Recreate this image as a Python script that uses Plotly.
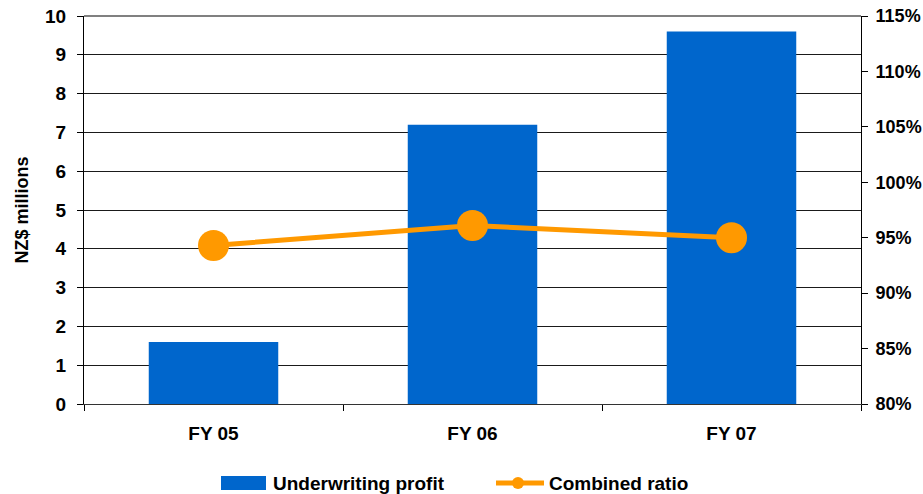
import plotly.graph_objects as go

# Financial years shown on the category axis
years = ["FY 05", "FY 06", "FY 07"]
# Underwriting profit, NZ$ millions
underwriting_profit = [1.6, 7.2, 9.6]
# Combined ratio (fraction)
combined_ratio = [0.943, 0.961, 0.950]

left_ticks = list(range(0, 11))
right_ticks = [0.80, 0.85, 0.90, 0.95, 1.00, 1.05, 1.10, 1.15]

BLUE = "#0066CC"
ORANGE = "#FF9900"
FONT = "Arial, 'Liberation Sans', sans-serif"
TICK_SIZE = 19

W, H = 923, 494
M_L, M_R, M_T, M_B = 84, 62, 16, 90


def px_x(x):
    return (x - M_L) / (W - M_L - M_R)


def px_y(y):
    return (H - M_B - y) / (H - M_T - M_B)


fig = go.Figure()

fig.add_trace(go.Bar(
    x=years, y=underwriting_profit, name="Underwriting profit",
    marker=dict(color=BLUE, line=dict(width=0)),
    yaxis="y", showlegend=False,
))

fig.add_trace(go.Scatter(
    x=years, y=combined_ratio, name="Combined ratio",
    mode="lines+markers",
    line=dict(color=ORANGE, width=5),
    marker=dict(color=ORANGE, size=31),
    yaxis="y2", showlegend=False,
))

# Legend drawn as keys plus labels beneath the plot
shapes = [
    dict(type="line", xref="paper", yref="paper", x0=0, x1=1, y0=1, y1=1,
         line=dict(color="#808080", width=2)),
    dict(type="rect", xref="paper", yref="paper",
         x0=px_x(221), x1=px_x(266), y0=px_y(490), y1=px_y(476),
         fillcolor=BLUE, line=dict(width=0)),
    dict(type="line", xref="paper", yref="paper",
         x0=px_x(496), x1=px_x(544), y0=px_y(483), y1=px_y(483),
         line=dict(color=ORANGE, width=5)),
    dict(type="circle", xref="paper", yref="paper",
         x0=px_x(512), x1=px_x(524), y0=px_y(489), y1=px_y(477),
         fillcolor=ORANGE, line=dict(width=0)),
]

annotations = [
    dict(text="<b>Underwriting profit</b>", xref="paper", yref="paper",
         x=px_x(271), y=px_y(483), xanchor="left", yanchor="middle",
         showarrow=False, font=dict(family=FONT, size=19, color="black")),
    dict(text="<b>Combined ratio</b>", xref="paper", yref="paper",
         x=px_x(547), y=px_y(483), xanchor="left", yanchor="middle",
         showarrow=False, font=dict(family=FONT, size=19, color="black")),
]

fig.update_layout(
    width=W, height=H,
    margin=dict(l=M_L, r=M_R, t=M_T, b=M_B, pad=0),
    paper_bgcolor="white", plot_bgcolor="white",
    bargap=0.5,
    font=dict(family=FONT, size=17, color="black"),
    xaxis=dict(
        type="category", automargin=False,
        showline=True, linecolor="#333333", linewidth=1,
        ticks="outside", ticklen=6, tickcolor="black", tickson="boundaries",
        tickfont=dict(family=FONT, size=TICK_SIZE, color="black", weight="bold"),
        ticklabelstandoff=12,
        showgrid=False,
    ),
    yaxis=dict(
        range=[0, 10], tickvals=left_ticks, automargin=False,
        showline=True, linecolor="black", linewidth=1,
        ticks="outside", ticklen=6, tickcolor="black",
        tickfont=dict(family=FONT, size=TICK_SIZE, color="black", weight="bold"),
        ticklabelstandoff=7,
        showgrid=True, gridcolor="#1a1a1a", gridwidth=1,
        zeroline=False,
        title=dict(text="NZ$ millions", standoff=11,
                   font=dict(family=FONT, size=18, color="black", weight="bold")),
    ),
    yaxis2=dict(
        range=[0.80, 1.15], tickvals=right_ticks, tickformat=".0%",
        overlaying="y", side="right", automargin=False,
        showline=True, linecolor="black", linewidth=1,
        ticks="outside", ticklen=6, tickcolor="black",
        tickfont=dict(family=FONT, size=18, color="black", weight="bold"),
        ticklabelstandoff=4,
        showgrid=False, zeroline=False,
    ),
    shapes=shapes,
    annotations=annotations,
)

fig.write_html("out.html")
